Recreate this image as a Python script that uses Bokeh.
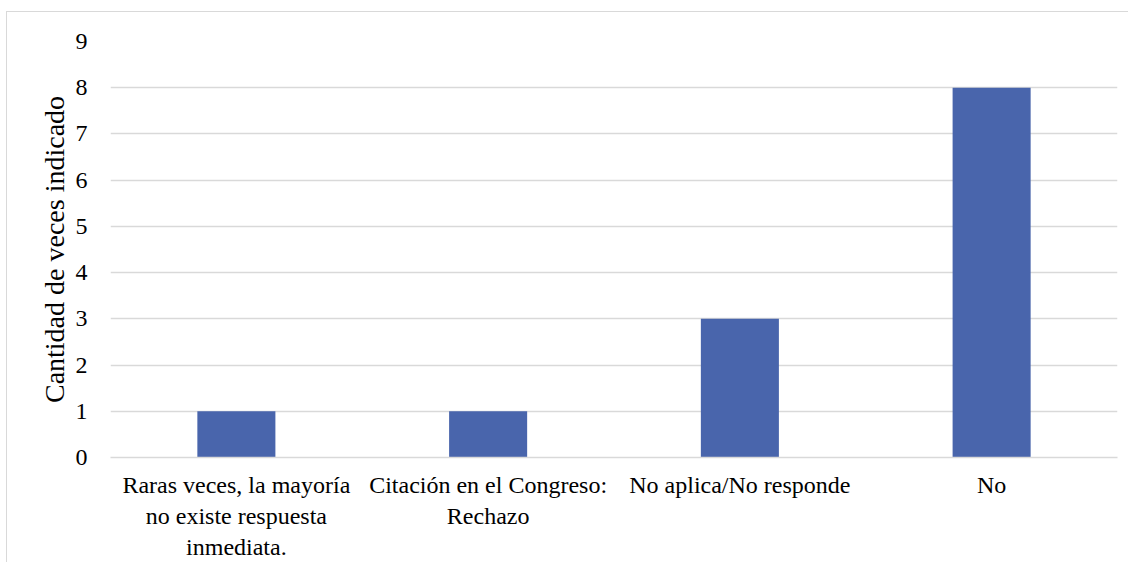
from bokeh.plotting import figure
from bokeh.models import FactorRange, ColumnDataSource
from bokeh.embed import file_html
from bokeh.resources import INLINE

categories = ["Raras veces, la mayoría\nno existe respuesta\ninmediata.",
              "Citación en el Congreso:\nRechazo",
              "No aplica/No responde",
              "No"]
counts = [1, 1, 3, 8]
y_ticks = [0, 1, 2, 3, 4, 5, 6, 7, 8, 9]

FONT = "Liberation Serif"
GRID = "#d9d9d9"

src = ColumnDataSource(data=dict(cat=categories, val=counts))

p = figure(x_range=FactorRange(*categories, range_padding=0), y_range=(0, 9),
           width=1122, height=551, output_backend="svg", toolbar_location=None,
           min_border_left=103, min_border_right=12, min_border_top=29, min_border_bottom=106,
           background_fill_color="white", border_fill_color="white")
p.outline_line_color = None
p.styles = {"margin-left": "6px", "margin-top": "11px",
            "border-left": "1px solid #d9d9d9", "border-top": "1px solid #d9d9d9"}

p.vbar(x="cat", top="val", width=0.31, source=src, fill_color="#4965ac", line_color=None)

p.xgrid.grid_line_color = None
p.ygrid.grid_line_color = GRID
p.ygrid.grid_line_width = 1.3
p.yaxis.ticker = y_ticks

p.yaxis.axis_line_color = None
p.yaxis.major_tick_line_color = None
p.yaxis.minor_tick_line_color = None
p.yaxis.major_label_text_font = FONT
p.yaxis.major_label_text_font_size = "24px"
p.yaxis.major_label_text_color = "#000000"
p.yaxis.major_label_standoff = 17
p.yaxis.axis_label = "Cantidad de veces indicado"
p.yaxis.axis_label_text_font = FONT
p.yaxis.axis_label_text_font_size = "28px"
p.yaxis.axis_label_text_font_style = "normal"
p.yaxis.axis_label_text_color = "#000000"
p.yaxis.axis_label_standoff = 3

p.xaxis.axis_line_color = GRID
p.xaxis.axis_line_width = 1.3
p.xaxis.major_tick_line_color = None
p.xaxis.minor_tick_line_color = None
p.xaxis.major_label_text_font = FONT
p.xaxis.major_label_text_font_size = "24px"
p.xaxis.major_label_text_color = "#000000"
p.xaxis.major_label_text_line_height = 1.2
p.xaxis.major_label_standoff = 8

open("out.html", "w").write(file_html(p, INLINE))
